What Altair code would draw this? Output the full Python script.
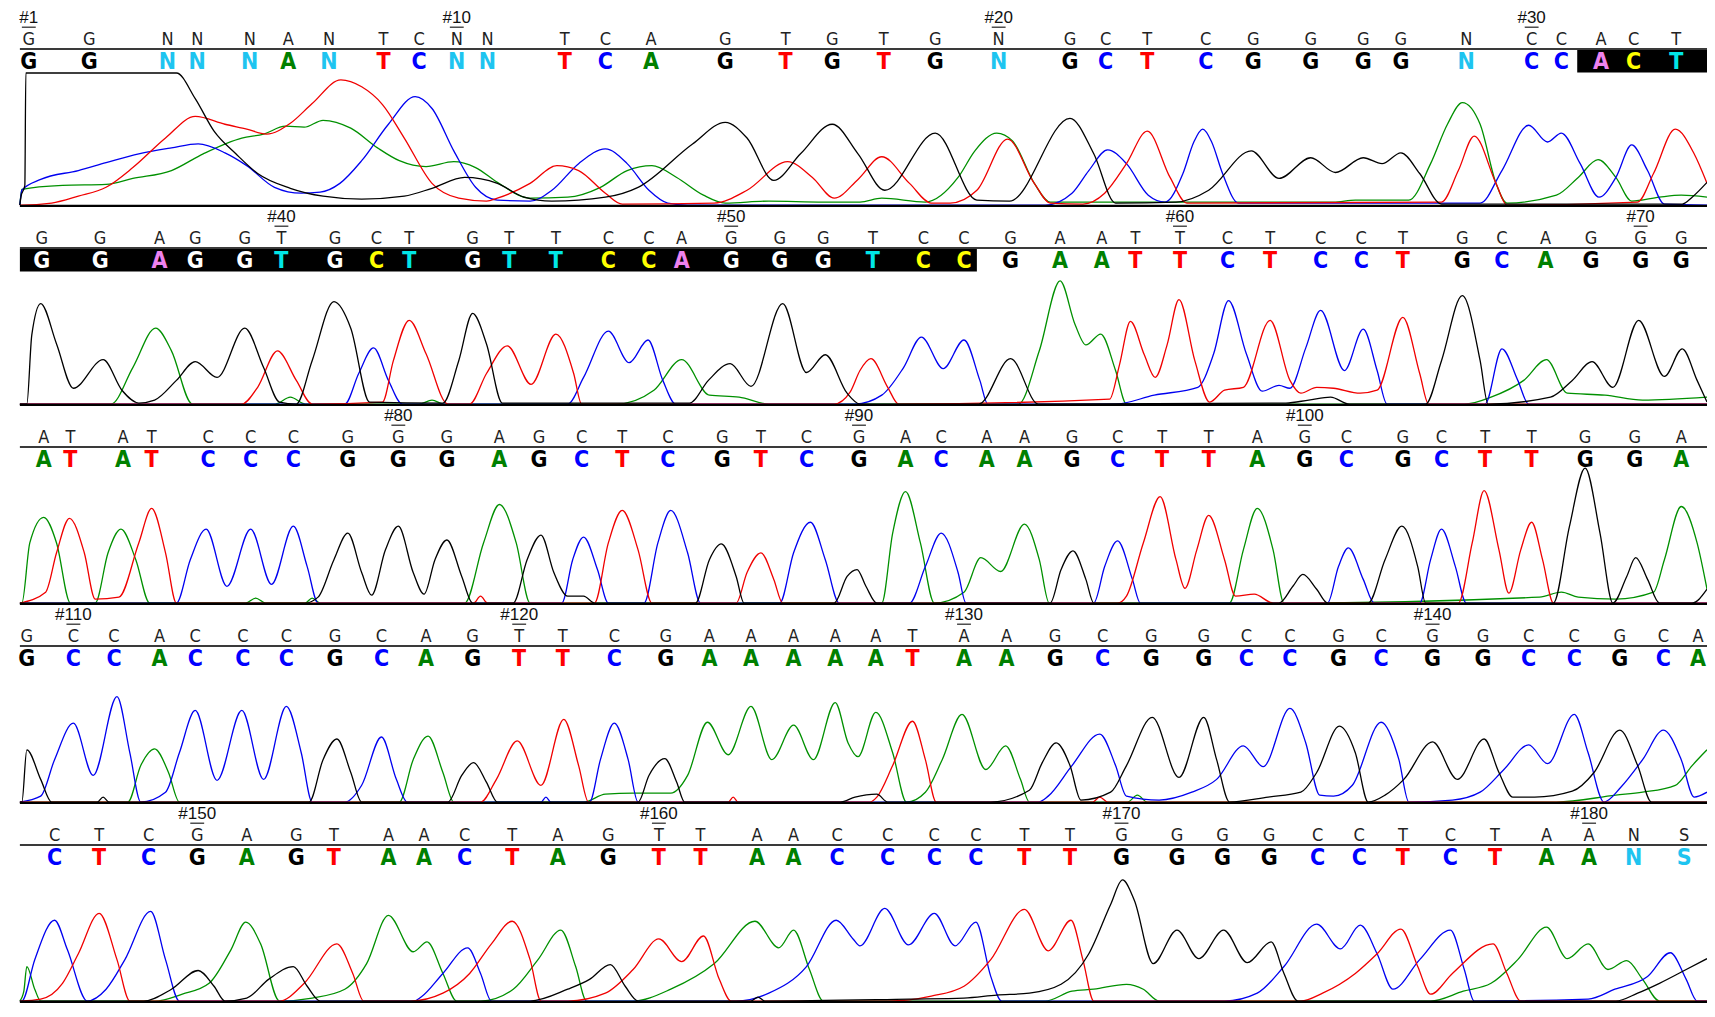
import altair as alt
import pandas as pd

# ---------------- base calls (called / edited) ----------------
ROW_START = [1, 35, 72, 109, 147]
ROW_BASES = [
    "GGNNNANTCNNTCAGTGTGNGCTCGGGGNCCACT",
    "GGAGGTGCTGTTCCAGGGTCCGAATTCTCCTGCAGGG",
    "ATATCCCGGGAGCTCGTCGACAAGCTTAGCGCTTGGA",
    "GCCACCCGCAGTTCGAAAAATAAGCGGCCGCGGCCGCA",
    "CTCGAGTAACTAGTTAACCCCTTGGGGCCTCTAANS",
]
ROW1_X = [21, 82, 161, 191, 244, 283, 324, 379, 415, 453, 484, 562, 603, 649, 724, 785, 832,
          884, 936, 1000, 1072, 1108, 1150, 1209, 1257, 1315, 1368, 1406, 1472, 1538, 1568, 1608, 1641, 1684]
ROW2_X = [34, 93, 153, 189, 239, 276, 330, 372, 405, 469, 506, 553, 606, 647, 680, 730, 779, 823,
          873, 924, 965, 1012, 1062, 1104, 1138, 1183, 1231, 1274, 1325, 1366, 1408, 1468, 1508, 1552, 1598, 1648, 1689]
ROW3_X = [36, 63, 116, 145, 202, 245, 288, 343, 394, 443, 496, 536, 579, 620, 666, 721, 760, 806,
          859, 906, 942, 988, 1026, 1074, 1120, 1165, 1212, 1261, 1309, 1351, 1408, 1447, 1491, 1538, 1592, 1642, 1689]
ROW4_X = [19, 66, 107, 153, 189, 237, 281, 330, 377, 422, 469, 516, 560, 612, 664, 708, 750, 793, 835,
          876, 913, 965, 1008, 1057, 1105, 1154, 1207, 1250, 1294, 1343, 1386, 1438, 1489, 1535, 1581, 1627, 1671, 1706]
ROW5_X = [47, 92, 142, 191, 241, 291, 329, 384, 420, 461, 509, 555, 606, 657, 699, 756, 793, 837,
          888, 935, 977, 1026, 1072, 1124, 1180, 1226, 1273, 1322, 1364, 1408, 1456, 1501, 1553, 1596, 1641, 1692]
ROW_X = [ROW1_X, ROW2_X, ROW3_X, ROW4_X, ROW5_X]

# bases shown on the black (highlighted) band
HIGHLIGHT_FROM, HIGHLIGHT_TO = 32, 55
BOX_EXTENT = {0: (1584, 1715), 1: (12, 978)}

# ---------------- traces: (scan position, signal) ----------------
R1_G = [(12,0),(13,8),(17,20),(18,134),(170,134),(189,108),(208,75),(230,52),(252,32),(285,17),(318,9),(357,6),(400,9),(428,17),(461,28),(494,22),(521,8),(549,4),(603,8),(636,18),(691,62),(724,84),(746,68),(773,25),(800,52),(832,82),(858,52),(885,15),(936,73),(978,5),(1011,4),(1072,88),(1096,52),(1118,2),(1179,3),(1212,15),(1255,55),(1283,27),(1315,48),(1340,33),(1368,48),(1387,42),(1406,53),(1425,32),(1447,1),(1690,1),(1700,8),(1715,23)]
R1_T = [(12,0),(14,0),(44,2),(71,9),(99,18),(126,38),(159,68),(189,90),(219,82),(241,77),(261,72),(285,83),(307,103),(336,127),(357,120),(378,102),(400,68),(428,22),(455,7),(483,4),(494,7),(527,22),(554,40),(576,35),(603,12),(620,1),(713,2),(746,15),(787,44),(812,28),(834,7),(858,26),(882,49),(910,22),(932,2),(951,2),(978,15),(1009,67),(1036,22),(1052,2),(1085,1),(1107,12),(1129,42),(1150,75),(1173,28),(1190,2),(1447,3),(1464,35),(1480,70),(1502,22),(1513,0),(1645,3),(1661,32),(1683,77),(1702,52),(1715,22)]
R1_C = [(12,0),(14,15),(33,26),(71,35),(99,43),(132,52),(165,58),(192,62),(219,53),(241,40),(269,18),(296,12),(315,13),(335,22),(357,45),(384,82),(411,110),(428,98),(450,55),(472,18),(494,5),(527,4),(549,15),(576,42),(603,57),(625,42),(647,15),(666,2),(686,0),(1047,0),(1074,12),(1091,35),(1110,56),(1129,42),(1151,10),(1168,3),(1186,32),(1197,64),(1206,77),(1215,64),(1226,32),(1242,2),(1486,2),(1508,35),(1535,81),(1554,64),(1568,73),(1587,42),(1606,8),(1623,28),(1639,61),(1655,35),(1672,1),(1715,0)]
R1_A = [(12,0),(14,16),(55,20),(99,21),(126,27),(165,35),(197,52),(236,68),(258,72),(280,80),(299,79),(318,86),(346,78),(373,58),(395,45),(422,39),(450,44),(472,38),(494,23),(527,7),(565,8),(598,18),(625,35),(650,40),(675,28),(702,10),(724,2),(768,4),(823,3),(860,3),(882,7),(926,3),(959,28),(976,55),(998,73),(1014,65),(1036,22),(1052,3),(1338,3),(1360,5),(1387,5),(1414,5),(1436,42),(1453,82),(1468,104),(1486,82),(1502,22),(1513,2),(1563,10),(1585,28),(1605,46),(1623,28),(1639,4),(1667,8),(1689,10),(1715,8)]

R2_G = [(12,0),(19,0),(24,70),(33,102),(49,61),(66,16),(96,45),(115,14),(132,1),(148,4),(170,24),(189,43),(211,27),(239,77),(258,37),(274,2),(291,0),(307,44),(329,104),(346,77),(365,2),(439,1),(455,44),(469,92),(483,61),(499,1),(688,1),(707,24),(729,41),(750,18),(782,102),(806,32),(825,50),(847,11),(860,0),(980,0),(1012,46),(1040,0),(1290,1),(1313,4),(1335,7),(1354,0),(1431,0),(1447,44),(1468,110),(1486,44),(1494,0),(1557,7),(1579,24),(1599,43),(1620,17),(1646,85),(1672,28),(1690,56),(1705,24),(1715,2)]
R2_T = [(12,0),(236,0),(252,17),(272,54),(291,24),(307,0),(378,2),(389,44),(405,85),(422,51),(444,0),(466,0),(483,31),(504,59),(528,20),(553,71),(571,31),(579,0),(834,0),(850,12),(860,34),(871,46),(888,17),(899,0),(1112,5),(1122,40),(1133,84),(1147,50),(1158,27),(1170,60),(1182,106),(1198,44),(1213,2),(1228,14),(1247,17),(1274,85),(1294,24),(1305,11),(1321,17),(1338,16),(1365,11),(1382,14),(1408,88),(1425,31),(1434,0),(1715,0)]
R2_C = [(12,0),(340,0),(354,31),(369,57),(384,24),(398,0),(565,0),(581,27),(606,74),(627,42),(646,65),(661,24),(674,0),(855,0),(882,9),(904,37),(922,68),(944,36),(965,65),(981,24),(989,0),(1118,0),(1157,9),(1201,17),(1217,51),(1232,105),(1250,51),(1266,13),(1283,19),(1294,16),(1310,57),(1325,95),(1349,34),(1368,76),(1382,34),(1392,0),(1491,0),(1508,56),(1524,24),(1535,0),(1715,0)]
R2_A = [(12,0),(104,0),(126,37),(149,77),(165,54),(186,0),(270,0),(285,7),(300,0),(415,0),(428,4),(440,0),(614,0),(652,14),(680,45),(708,9),(738,7),(768,0),(1020,0),(1041,54),(1062,125),(1077,81),(1088,60),(1103,71),(1118,34),(1129,0),(1470,0),(1497,7),(1530,24),(1553,45),(1574,11),(1612,9),(1650,4),(1715,7)]

R3_G = [(12,0),(300,0),(313,6),(329,44),(343,71),(357,31),(367,8),(381,54),(394,78),(409,31),(420,9),(431,44),(443,64),(458,27),(469,0),(510,0),(524,44),(538,69),(551,31),(565,7),(581,7),(592,0),(694,0),(708,44),(720,60),(735,27),(743,0),(834,0),(847,27),(857,34),(866,17),(877,0),(1052,0),(1063,34),(1075,53),(1088,24),(1096,0),(1283,0),(1297,17),(1307,29),(1321,14),(1332,0),(1373,0),(1390,44),(1407,78),(1423,37),(1431,0),(1560,0),(1576,77),(1592,137),(1607,71),(1620,0),(1634,27),(1643,46),(1655,24),(1667,0),(1700,0),(1715,14)]
R3_T = [(12,0),(38,11),(49,51),(62,86),(77,51),(88,4),(112,6),(132,61),(145,96),(159,51),(170,0),(470,0),(477,7),(484,0),(592,0),(606,61),(620,94),(636,54),(650,0),(735,0),(746,31),(760,51),(773,24),(782,0),(1120,0),(1129,7),(1146,61),(1163,108),(1179,44),(1188,15),(1200,54),(1212,89),(1228,44),(1239,7),(1258,9),(1277,0),(1464,0),(1478,61),(1490,114),(1505,54),(1515,10),(1527,54),(1538,82),(1549,44),(1560,0),(1715,0)]
R3_C = [(12,0),(170,0),(184,44),(200,75),(221,17),(245,75),(266,19),(288,78),(302,37),(313,0),(559,0),(570,44),(581,67),(595,34),(606,0),(642,0),(656,61),(669,94),(686,51),(699,0),(779,0),(793,51),(810,82),(825,44),(839,0),(910,0),(926,37),(942,71),(959,31),(967,0),(1096,0),(1107,37),(1120,63),(1135,24),(1143,0),(1332,0),(1343,37),(1353,56),(1368,24),(1379,0),(1425,0),(1436,44),(1447,75),(1461,37),(1472,0),(1715,0)]
R3_A = [(12,0),(14,0),(22,61),(36,87),(49,61),(63,0),(88,0),(101,51),(114,75),(129,44),(143,0),(240,0),(250,5),(260,0),(300,0),(307,5),(315,0),(461,0),(480,61),(496,100),(513,61),(527,0),(882,0),(893,71),(906,113),(921,61),(935,0),(965,11),(982,46),(1002,32),(1026,80),(1041,44),(1051,0),(1233,0),(1247,54),(1261,96),(1277,54),(1288,0),(1546,6),(1568,11),(1585,6),(1623,4),(1661,11),(1672,44),(1689,98),(1705,61),(1715,14)]

R4_G = [(12,0),(14,0),(19,53),(33,23),(44,0),(90,0),(96,5),(102,0),(304,0),(318,43),(332,64),(346,30),(357,0),(444,0),(458,27),(470,40),(483,20),(494,0),(636,0),(647,27),(663,44),(675,20),(683,0),(840,0),(855,5),(877,8),(888,0),(992,0),(1031,12),(1044,40),(1058,60),(1072,37),(1083,2),(1113,10),(1129,37),(1155,86),(1182,25),(1207,86),(1220,43),(1233,0),(1272,5),(1305,10),(1321,30),(1344,77),(1360,50),(1373,0),(1390,7),(1409,23),(1438,61),(1463,23),(1490,64),(1505,30),(1519,5),(1541,5),(1579,11),(1601,30),(1627,73),(1645,37),(1659,0),(1715,0)]
R4_T = [(12,0),(477,0),(493,23),(514,62),(538,17),(561,84),(576,37),(586,0),(727,0),(732,5),(737,0),(870,0),(877,5),(893,37),(913,82),(926,43),(937,0),(1095,0),(1102,5),(1110,0),(1715,0)]
R4_C = [(12,0),(33,6),(47,43),(66,80),(86,27),(110,107),(123,50),(134,0),(159,10),(173,50),(189,93),(211,22),(236,93),(258,23),(281,97),(296,50),(307,0),(340,0),(357,17),(377,66),(392,23),(403,0),(538,0),(543,5),(548,0),(587,0),(598,43),(612,80),(626,43),(636,0),(1040,0),(1050,6),(1074,37),(1102,69),(1118,37),(1129,6),(1162,2),(1195,10),(1220,23),(1247,57),(1267,36),(1294,95),(1310,60),(1324,7),(1338,6),(1357,17),(1386,81),(1404,43),(1414,0),(1458,2),(1486,10),(1510,33),(1535,58),(1554,39),(1581,89),(1595,50),(1611,0),(1628,15),(1650,43),(1671,73),(1689,43),(1702,5),(1715,10)]
R4_A = [(12,0),(121,0),(134,37),(148,54),(162,30),(173,0),(395,0),(409,43),(424,67),(439,30),(450,0),(581,0),(603,8),(631,9),(669,9),(686,27),(706,81),(727,48),(750,97),(771,43),(793,78),(813,43),(835,101),(848,60),(858,46),(876,91),(893,50),(907,0),(926,10),(943,43),(963,89),(987,33),(1007,57),(1022,23),(1031,0),(1130,0),(1140,7),(1150,0),(1563,0),(1623,7),(1650,10),(1683,17),(1700,37),(1715,53)]

R5_G = [(12,0),(137,0),(165,12),(192,31),(208,15),(219,0),(241,3),(263,22),(288,35),(302,15),(315,0),(527,0),(565,12),(587,22),(608,37),(623,15),(636,0),(750,0),(757,4),(764,0),(910,2),(965,3),(998,6),(1031,8),(1063,17),(1091,48),(1113,98),(1125,123),(1137,102),(1156,38),(1180,72),(1202,43),(1227,72),(1251,39),(1275,60),(1288,28),(1302,0),(1623,0),(1645,8),(1667,18),(1694,32),(1715,43)]
R5_T = [(12,0),(33,2),(55,18),(71,48),(92,89),(110,42),(123,0),(274,0),(299,18),(332,58),(348,28),(359,0),(406,0),(439,8),(466,28),(488,58),(509,81),(527,42),(538,0),(565,0),(603,8),(631,32),(657,63),(680,40),(702,66),(718,22),(730,0),(888,0),(932,5),(965,15),(992,42),(1026,93),(1050,51),(1073,82),(1085,42),(1096,0),(1305,0),(1327,8),(1360,28),(1382,48),(1406,73),(1423,35),(1436,7),(1458,28),(1499,58),(1513,28),(1527,0),(1715,0)]
R5_C = [(12,0),(14,0),(27,42),(47,82),(60,52),(80,0),(99,12),(118,42),(144,91),(159,42),(173,0),(410,0),(417,4),(439,28),(464,54),(477,28),(488,0),(735,0),(768,8),(806,35),(836,82),(853,63),(860,56),(885,94),(909,57),(935,89),(956,56),(977,80),(992,25),(1003,0),(1228,0),(1261,8),(1288,35),(1321,78),(1345,53),(1365,77),(1382,48),(1398,12),(1425,42),(1456,72),(1470,32),(1480,0),(1595,2),(1622,12),(1655,25),(1678,49),(1694,22),(1705,0),(1715,0)]
R5_A = [(12,0),(16,10),(19,35),(27,12),(33,0),(148,0),(176,7),(203,18),(225,52),(240,80),(255,58),(274,0),(307,3),(340,12),(362,38),(384,87),(409,50),(423,60),(439,28),(453,0),(477,0),(510,12),(535,42),(558,72),(573,35),(584,0),(631,0),(669,12),(713,38),(754,81),(778,54),(793,72),(809,32),(823,0),(1047,0),(1074,10),(1096,12),(1129,17),(1146,12),(1162,0),(1436,0),(1469,10),(1497,18),(1524,42),(1553,75),(1574,43),(1595,58),(1615,32),(1634,41),(1650,22),(1667,0),(1715,0)]

TRACES = [
    {"G": R1_G, "T": R1_T, "C": R1_C, "A": R1_A},
    {"G": R2_G, "T": R2_T, "C": R2_C, "A": R2_A},
    {"G": R3_G, "T": R3_T, "C": R3_C, "A": R3_A},
    {"G": R4_G, "T": R4_T, "C": R4_C, "A": R4_A},
    {"G": R5_G, "T": R5_T, "C": R5_C, "A": R5_A},
]

# ---------------- styling ----------------
W, H = 1699, 199
XS = alt.Scale(domain=[0, 1715], nice=False, zero=False)
YS = alt.Scale(domain=[-2, 200], nice=False, zero=False)
NARROW = "Liberation Sans Narrow, DejaVu Sans Condensed, Arial Narrow, sans-serif"
REGULAR = "Liberation Sans, Arial, sans-serif"
TRACE_COLORS = {"G": "#000000", "T": "#f00000", "C": "#0000f0", "A": "#009000"}
BASE_COLORS = {"G": "#000000", "T": "#ff0000", "C": "#0000ff", "A": "#008000", "N": "#1ec4f0", "S": "#1ec4f0"}
HL_COLORS = {"G": "#ffffff", "T": "#00e6e6", "C": "#ffff00", "A": "#ee82ee"}


def row_chart(i):
    seq, xs, start = ROW_BASES[i], ROW_X[i], ROW_START[i]
    recs = []
    for k, (b, x) in enumerate(zip(seq, xs)):
        n = start + k
        hl = HIGHLIGHT_FROM <= n <= HIGHLIGHT_TO
        recs.append({
            "n": n, "x": x, "called": b, "edited": b,
            "col": HL_COLORS.get(b, "#ffffff") if hl else BASE_COLORS[b],
            "label": f"#{n}" if (n == 1 or n % 10 == 0) else "",
        })
    bases = pd.DataFrame(recs)
    tr = pd.DataFrame([
        {"ch": ch, "x": x, "y": y}
        for ch in ["A", "C", "T", "G"] for (x, y) in TRACES[i][ch]
    ])
    frame = pd.DataFrame([{"x1": 12, "x2": 1715}])

    layers = []
    if i in BOX_EXTENT:
        bx = pd.DataFrame([{"x1": BOX_EXTENT[i][0], "x2": BOX_EXTENT[i][1]}])
        layers.append(alt.Chart(bx).mark_rect(color="black", clip=True).encode(
            x=alt.X("x1:Q", scale=XS, axis=None), x2="x2:Q",
            y=alt.YDatum(157.5, scale=YS, axis=None), y2=alt.Y2Datum(134.5)))
    layers.append(alt.Chart(frame).mark_rule(color="#3a3a3a", strokeWidth=2, clip=True).encode(
        x=alt.X("x1:Q", scale=XS, axis=None), x2="x2:Q",
        y=alt.YDatum(158.5, scale=YS, axis=None)))
    layers.append(alt.Chart(tr).mark_line(interpolate="monotone", strokeWidth=1.3, clip=True).encode(
        x=alt.X("x:Q", scale=XS, axis=None),
        y=alt.Y("y:Q", scale=YS, axis=None),
        color=alt.Color("ch:N", scale=alt.Scale(domain=list(TRACE_COLORS.keys()),
                                                  range=list(TRACE_COLORS.values())), legend=None)))
    layers.append(alt.Chart(frame).mark_rule(color="black", strokeWidth=3, clip=True).encode(
        x=alt.X("x1:Q", scale=XS, axis=None), x2="x2:Q",
        y=alt.YDatum(-1.3, scale=YS, axis=None)))
    marked = alt.Chart(bases).transform_filter("datum.label != ''")
    layers.append(marked.transform_calculate(xa="datum.x - 7", xb="datum.x + 7")
                  .mark_rule(color="#333333", strokeWidth=1.3, clip=True).encode(
        x=alt.X("xa:Q", scale=XS, axis=None), x2="xb:Q",
        y=alt.YDatum(180.5, scale=YS, axis=None)))
    layers.append(marked.mark_text(font=REGULAR, fontSize=17, color="#111111",
                                   align="center", baseline="middle", clip=True).encode(
        x=alt.X("x:Q", scale=XS, axis=None),
        y=alt.YDatum(190, scale=YS, axis=None), text="label:N"))
    layers.append(alt.Chart(bases).mark_text(font=NARROW, fontSize=18, color="#222222",
                                             align="center", baseline="middle", clip=True).encode(
        x=alt.X("x:Q", scale=XS, axis=None),
        y=alt.YDatum(168, scale=YS, axis=None), text="called:N"))
    layers.append(alt.Chart(bases).mark_text(font=NARROW, fontSize=23, fontWeight="bold",
                                             align="center", baseline="middle", clip=True).encode(
        x=alt.X("x:Q", scale=XS, axis=None),
        y=alt.YDatum(145.5, scale=YS, axis=None), text="edited:N",
        color=alt.Color("col:N", scale=None)))
    return alt.layer(*layers).properties(width=W, height=H)


chart = alt.vconcat(*[row_chart(i) for i in range(5)], spacing=0).properties(
    padding=0, background="white"
).configure_view(stroke=None)

chart.save("out.html", embed_options={"renderer": "svg", "actions": False})
